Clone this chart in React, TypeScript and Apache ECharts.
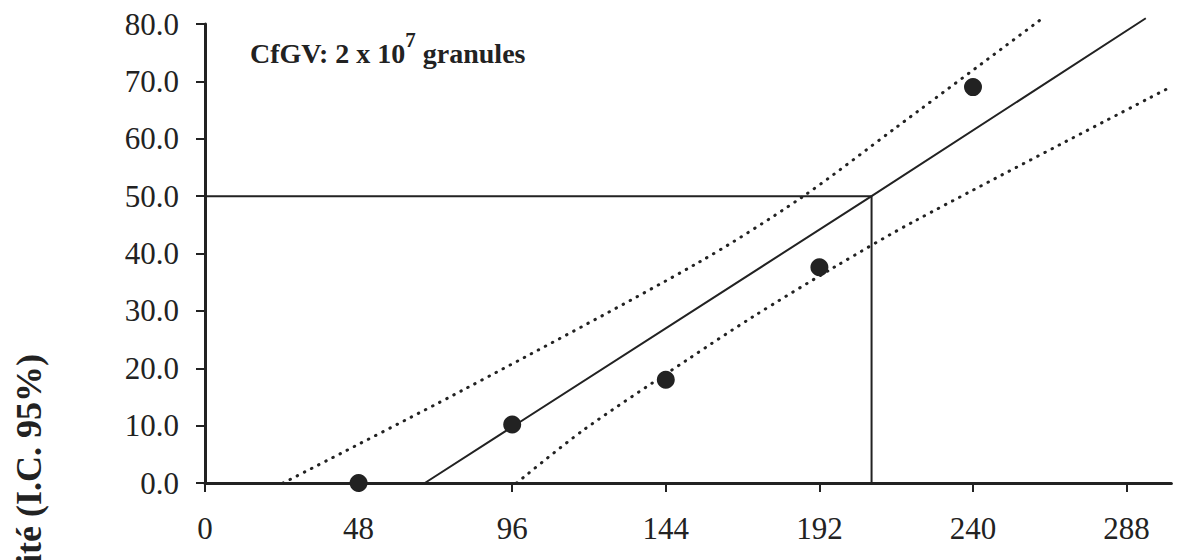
import React, { useEffect, useRef } from "react";
import * as echarts from "echarts";

const xTickValues = [0, 48, 96, 144, 192, 240, 288];
const yTickValues = [0, 10, 20, 30, 40, 50, 60, 70, 80];

// observed points (time in h, mortality %)
const observed: number[][] = [
  [48, 0],
  [96, 10.2],
  [144, 18],
  [192, 37.6],
  [240, 69],
];

// fitted line
const fitLine: number[][] = [
  [68.7, 0],
  [208.3, 50],
  [294, 81],
];

// upper 95% confidence limit
const upperCI: number[][] = [
  [24.4, 0],
  [80.6, 16.2],
  [153.8, 38.3],
  [186, 49.6],
  [216.3, 62.1],
  [261, 80.7],
];

// lower 95% confidence limit
const lowerCI: number[][] = [
  [97.4, 0],
  [118.2, 9.2],
  [150.5, 21.4],
  [171.3, 29.0],
  [196.9, 37.7],
  [221.9, 45.7],
  [301, 68.8],
];

// TL50 reference lines
const tl50Lines: number[][] = [
  [0, 50],
  [208.3, 50],
  [208.3, 0],
];

const INK = "#222";
const SERIF = "'Liberation Serif', 'DejaVu Serif', serif";

export default function App() {
  const ref = useRef<HTMLDivElement>(null);
  useEffect(() => {
    if (!ref.current) return;
    const chart = echarts.init(ref.current, null, { renderer: "svg" });
    const dotted = {
      color: INK,
      width: 3,
      type: [0.5, 7.5],
      cap: "round",
    };
    chart.setOption({
      animation: false,
      backgroundColor: "#fff",
      grid: { left: 205, top: 24, width: 966.4, height: 459 },
      xAxis: {
        type: "value",
        min: 0,
        max: 302,
        interval: 48,
        splitLine: { show: false },
        axisLine: { lineStyle: { color: INK, width: 3 } },
        axisTick: {
          inside: false,
          length: 9,
          lineStyle: { color: INK, width: 2 },
          customValues: xTickValues,
        },
        axisLabel: {
          customValues: xTickValues,
          color: INK,
          fontFamily: SERIF,
          fontSize: 31,
          margin: 30,
        },
      },
      yAxis: {
        type: "value",
        min: 0,
        max: 80,
        interval: 10,
        splitLine: { show: false },
        axisLine: { lineStyle: { color: INK, width: 3 } },
        axisTick: {
          inside: false,
          length: 9,
          lineStyle: { color: INK, width: 2 },
          customValues: yTickValues,
        },
        axisLabel: {
          customValues: yTickValues,
          color: INK,
          fontFamily: SERIF,
          fontSize: 31,
          margin: 26,
          formatter: (v: number) => v.toFixed(1),
        },
      },
      graphic: [
        {
          type: "text",
          left: 250,
          top: 29,
          style: {
            text: "{a|CfGV: 2 x 10}{s|7}{a| granules}",
            rich: {
              a: {
                fontFamily: SERIF,
                fontWeight: "bold",
                fontSize: 28,
                lineHeight: 38,
                fill: INK,
                verticalAlign: "bottom",
              },
              s: {
                fontFamily: SERIF,
                fontWeight: "bold",
                fontSize: 21,
                lineHeight: 21,
                fill: INK,
                verticalAlign: "top",
              },
            },
          },
        },
        {
          type: "text",
          x: 29,
          y: 354,
          rotation: Math.PI / 2,
          style: {
            text: "Mortalité (I.C. 95%)",
            fontFamily: SERIF,
            fontWeight: "bold",
            fontSize: 36,
            fill: INK,
            align: "right",
            verticalAlign: "middle",
          },
        },
      ],
      series: [
        {
          type: "line",
          data: tl50Lines,
          symbol: "none",
          clip: false,
          lineStyle: { color: INK, width: 2 },
        },
        {
          type: "line",
          data: fitLine,
          symbol: "none",
          clip: false,
          lineStyle: { color: INK, width: 2 },
        },
        {
          type: "line",
          data: upperCI,
          symbol: "none",
          clip: false,
          smooth: 0.3,
          lineStyle: dotted,
        },
        {
          type: "line",
          data: lowerCI,
          symbol: "none",
          clip: false,
          smooth: 0.3,
          lineStyle: dotted,
        },
        {
          type: "scatter",
          data: observed,
          symbol: "circle",
          symbolSize: 18,
          clip: false,
          itemStyle: { color: "#222", opacity: 1 },
          z: 5,
        },
      ],
    });
    return () => chart.dispose();
  }, []);
  return (
    <div
      ref={ref}
      style={{ position: "absolute", left: 0, top: 0, width: 1177, height: 560 }}
    />
  );
}
